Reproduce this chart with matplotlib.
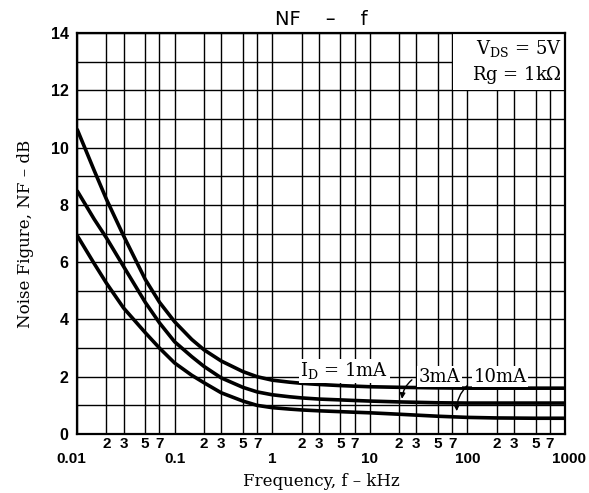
import numpy as np
import matplotlib
matplotlib.use("Agg")
import matplotlib.pyplot as plt
import matplotlib.transforms as mtransforms
from matplotlib.patches import Rectangle

# frequency (kHz) and noise figure (dB)
freq = [0.01, 0.015, 0.02, 0.03, 0.05, 0.07, 0.1, 0.15, 0.2, 0.3, 0.5, 0.7,
        1, 1.5, 2, 3, 5, 7, 10, 20, 50, 100, 200, 500, 1000]
nf_1mA = [10.65, 9.2, 8.2, 6.92, 5.4, 4.6, 3.92, 3.3, 2.94, 2.55, 2.18, 2.0,
          1.88, 1.81, 1.77, 1.73, 1.69, 1.67, 1.65, 1.63, 1.61, 1.6, 1.6, 1.6, 1.6]
nf_3mA = [8.5, 7.5, 6.85, 5.85, 4.6, 3.88, 3.22, 2.7, 2.36, 1.96, 1.63, 1.47,
          1.37, 1.3, 1.26, 1.22, 1.19, 1.17, 1.15, 1.12, 1.09, 1.08, 1.08, 1.08, 1.08]
nf_10mA = [6.94, 5.95, 5.27, 4.4, 3.54, 3.0, 2.48, 2.05, 1.79, 1.44, 1.15, 1.0,
           0.92, 0.87, 0.84, 0.81, 0.78, 0.76, 0.74, 0.69, 0.62, 0.58, 0.56, 0.55, 0.55]

decades = [0.01, 0.1, 1, 10, 100, 1000]
decade_labels = ["0.01", "0.1", "1", "10", "100", "1000"]
minor_mult = [2, 3, 5, 7]

plt.rcParams["mathtext.fontset"] = "dejavuserif"

fig = plt.figure(figsize=(5.89, 4.93), dpi=100)
ax = fig.add_axes([77/589, 59/493, 488/589, 401/493])

ax.set_xscale("log")
ax.set_xlim(0.01, 1000)
ax.set_ylim(0, 14)

# ticks and labels
minor_ticks = [d * m for d in decades[:-1] for m in minor_mult]
ax.set_xticks(decades)
ax.set_xticklabels(decade_labels)
ax.set_xticks(minor_ticks, minor=True)
ax.set_xticklabels([str(m) for d in decades[:-1] for m in minor_mult], minor=True)
ax.set_yticks(np.arange(0, 15, 2))
ax.set_yticks(np.arange(1, 14, 2), minor=True)

for lab in ax.get_yticklabels():
    lab.set_fontfamily("Liberation Sans")
    lab.set_fontweight("bold")
    lab.set_fontsize(11.5)
for lab in ax.get_xticklabels(which="both"):
    lab.set_fontfamily("Liberation Sans")
    lab.set_fontweight("bold")
    lab.set_fontsize(11)
ax.tick_params(axis="x", which="major", length=0, pad=13)
ax.tick_params(axis="x", which="minor", length=0, pad=2.5)
ax.tick_params(axis="y", which="both", length=0, pad=6)

# the end decade labels sit a little off their lines, as in the original
xlabs = ax.get_xticklabels()
shift_r = mtransforms.ScaledTranslation(3/72, 0, fig.dpi_scale_trans)
xlabs[-1].set_transform(xlabs[-1].get_transform() + shift_r)
shift_l = mtransforms.ScaledTranslation(-4/72, 0, fig.dpi_scale_trans)
xlabs[0].set_transform(xlabs[0].get_transform() + shift_l)

ax.grid(True, which="both", color="black", linewidth=1.0, zorder=1)
ax.set_axisbelow(True)
for sp in ax.spines.values():
    sp.set_linewidth(1.6)

# curves
for nf in (nf_1mA, nf_3mA, nf_10mA):
    ax.plot(freq, nf, color="black", linewidth=2.6, solid_capstyle="butt", zorder=3)

# conditions box
ax.add_patch(Rectangle((72, 12), 1000 - 72, 2, facecolor="white",
                       edgecolor="none", zorder=2))
ax.text(930, 13.45, r"V$_{\mathrm{DS}}$ = 5V", family="DejaVu Serif", fontsize=13,
        ha="right", va="center", zorder=4)
ax.text(930, 12.55, r"Rg = 1k$\Omega$", family="DejaVu Serif", fontsize=13,
        ha="right", va="center", zorder=4)

# curve labels
lab_box = dict(facecolor="white", edgecolor="none", pad=1)
ax.text(5.5, 2.2, r"I$_{\mathrm{D}}$ = 1mA", family="DejaVu Serif", fontsize=13,
        ha="center", va="center", bbox=lab_box, zorder=4)
ax.text(52, 2.0, "3mA", family="DejaVu Serif", fontsize=13,
        ha="center", va="center", bbox=lab_box, zorder=4)
ax.text(215, 2.0, "10mA", family="DejaVu Serif", fontsize=13,
        ha="center", va="center", bbox=lab_box, zorder=4)
ax.annotate("", xy=(21.3, 1.13), xytext=(28.4, 1.95),
            arrowprops=dict(arrowstyle="-|>", color="black", lw=1.0,
                            connectionstyle="arc3,rad=0.25", mutation_scale=8),
            zorder=4)
ax.annotate("", xy=(78, 0.7), xytext=(104, 1.75),
            arrowprops=dict(arrowstyle="-|>", color="black", lw=1.0,
                            connectionstyle="arc3,rad=0.25", mutation_scale=8),
            zorder=4)

ax.set_title("NF    \u2013    f", family="DejaVu Sans", fontsize=14, pad=6)
ax.set_xlabel("Frequency, f \u2013 kHz", family="DejaVu Serif", fontsize=12, labelpad=5)
ax.set_ylabel("Noise Figure, NF \u2013 dB", family="DejaVu Serif", fontsize=12, labelpad=12)

fig.savefig("out.png", dpi=100)
